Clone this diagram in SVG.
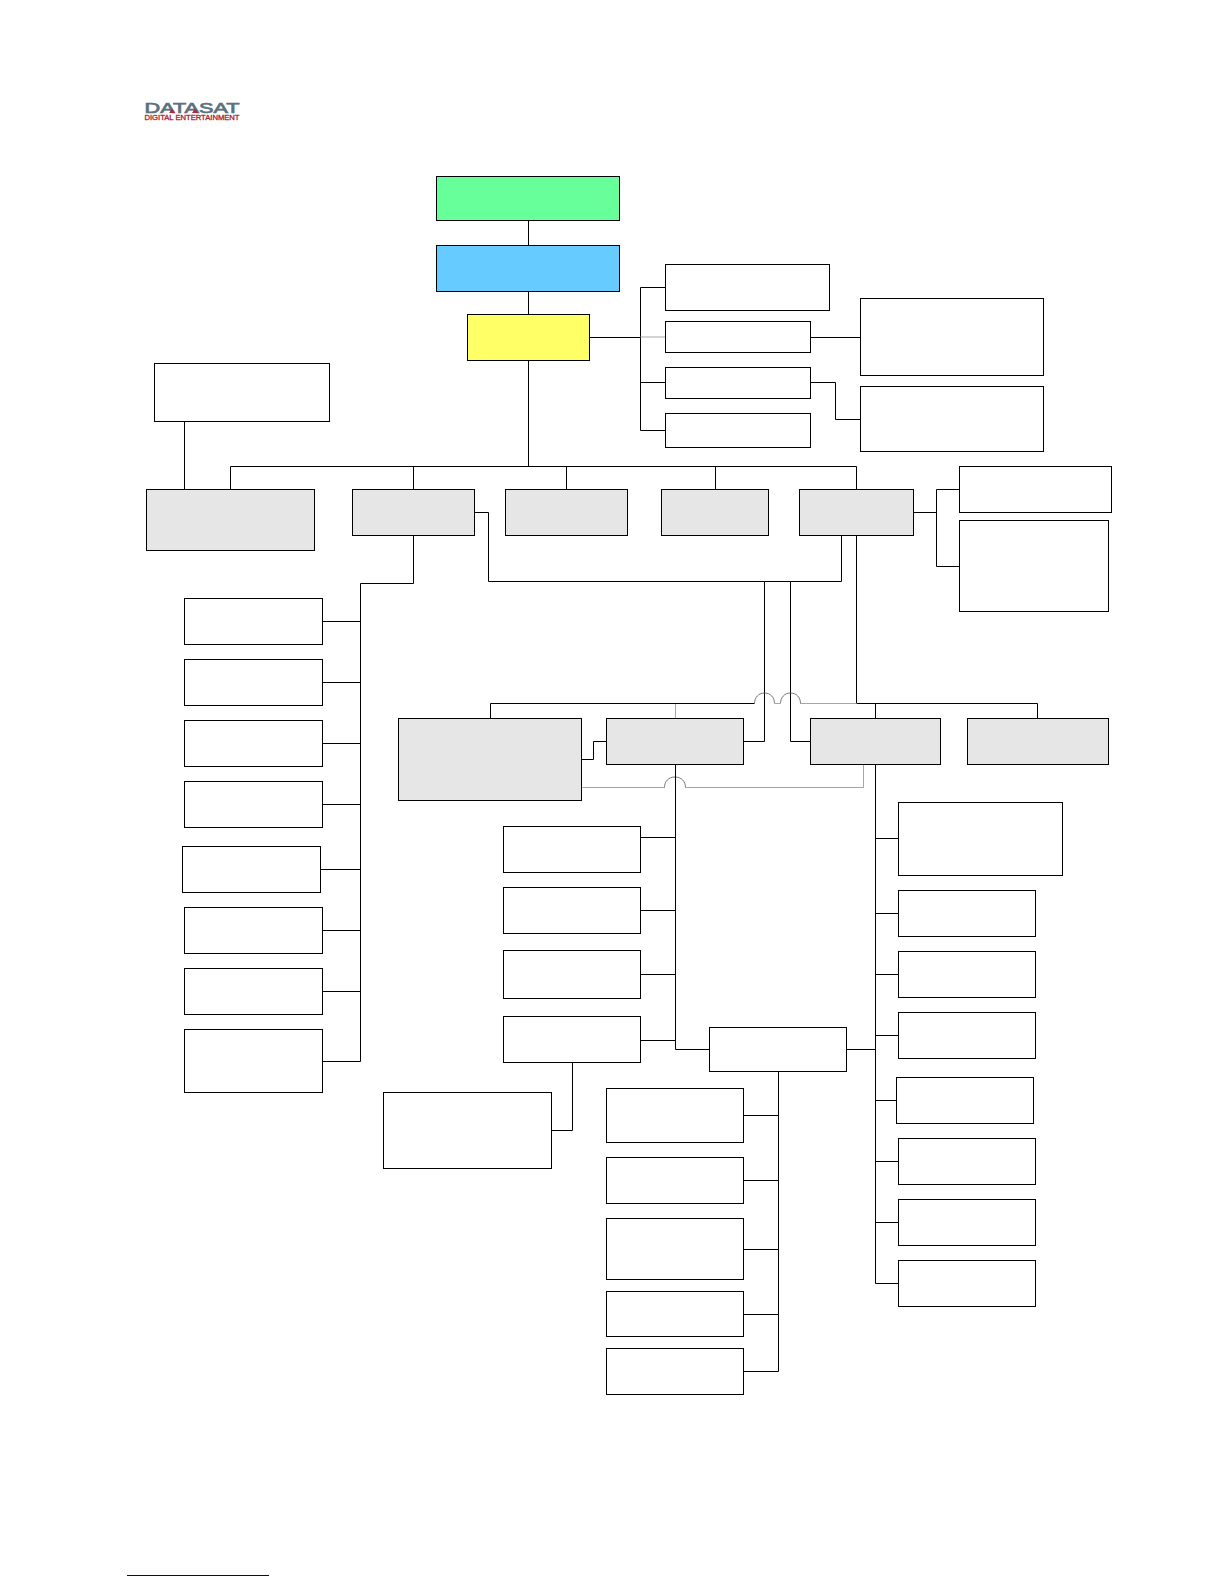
<svg xmlns="http://www.w3.org/2000/svg" width="1224" height="1584" viewBox="0 0 1224 1584">
<style>
rect{stroke:#000;stroke-width:1;fill:#fff}
.g{fill:#e6e6e6}
.c{fill:none;stroke:#000;stroke-width:1}
.l{fill:none;stroke:#a6a6a6;stroke-width:1}
.a{fill:none;stroke:#555;stroke-width:.8}
</style>
<rect x="0" y="0" width="1224" height="1584" style="fill:#fff;stroke:none"/>
<g id="logo">
<text x="144.5" y="113" font-family="Liberation Sans, Arial, sans-serif" font-size="14.5" fill="#5a727d" stroke="#5a727d" stroke-width=".7" textLength="95" lengthAdjust="spacingAndGlyphs">DATASAT</text>
<polygon points="169,113 172,108.5 175,113" fill="#b5283a"/>
<polygon points="192,113 195,108.5 198,113" fill="#b5283a"/>
<text x="144.5" y="120" font-family="Liberation Sans, Arial, sans-serif" font-size="6.8" fill="#a82434" stroke="#a82434" stroke-width=".3" textLength="95" lengthAdjust="spacingAndGlyphs">DIGITAL ENTERTAINMENT</text>
</g>
<g id="connectors">
<path class="c" d="M528.5 220.5V245.5M528.5 291.5V314.5M528.5 360.5V466.5"/>
<path class="c" d="M230.5 489.5V466.5H856.5V489.5M413.5 466.5V489.5M566.5 466.5V489.5M715.5 466.5V489.5"/>
<path class="c" d="M184.5 421.5V489.5"/>
<path class="c" d="M589.5 337.5H640.5M665.5 287.5H640.5V430.5H665.5M640.5 382.5H665.5"/>
<path class="l" d="M640.5 337H665"/>
<path class="c" d="M810.5 337.5H860.5M810.5 382.5H835.5V419.5H860.5"/>
<path class="c" d="M913.5 512.5H936.5M959.5 489.5H936.5V566.5H959.5"/>
<path class="c" d="M413.5 535.5V583.5H360.5V1061.5H322.5"/>
<path class="c" d="M322.5 621.5H360.5M322.5 682.5H360.5M322.5 743.5H360.5M322.5 804.5H360.5M320.5 869.5H360.5M322.5 930.5H360.5M322.5 991.5H360.5"/>
<path class="c" d="M474.5 512.5H488.5V581.5H841.5V535.5"/>
<path class="c" d="M764.5 581.5V741.5H743.5M790.5 581.5V741.5H810.5"/>
<path class="c" d="M856.5 535.5V703.5H1037.5V718.5M875.5 703.5V718.5"/>
<path class="c" d="M490.5 718.5V703.5H754.5"/>
<path class="l" d="M675.5 704V718.5M800.5 703.5H856.5M775 703.5H780"/>
<path class="a" d="M754.5 703.5c0-6 4-10.500 10-10.500s10 4.500 10 10.500M780.500 703.500c0-6 4-10.500 10-10.500s10 4.500 10 10.500"/>
<path class="c" d="M581.5 759.5H593.5V741.5H606.5"/>
<path class="l" d="M581.5 787.5H664.5M685.5 787.5H863.5V764.5"/>
<path class="a" d="M664.5 787.500c0-6 4-10.500 10.500-10.500s10.500 4.500 10.500 10.500"/>
<path class="c" d="M675.5 764.5V1049.5H709.5M640.5 837.5H675.5M640.5 910.5H675.5M640.5 974.5H675.5M640.5 1040.5H675.5"/>
<path class="c" d="M572.5 1062.5V1130.5H551.5"/>
<path class="c" d="M846.5 1049.5H875.5M778.5 1071.5V1371.5H743.5M743.5 1115.5H778.5M743.5 1180.5H778.5M743.5 1249.5H778.5M743.5 1314.5H778.5"/>
<path class="c" d="M875.5 764.5V1283.5H898.5M875.5 838.5H898.5M875.5 913.5H898.5M875.5 974.5H898.5M875.5 1035.5H898.5M875.5 1100.5H896.5M875.5 1161.5H898.5M875.5 1222.5H898.5"/>
</g>
<g id="n1"><rect x="436.5" y="176.5" width="183" height="44" style="fill:#66ff99"/></g>
<g id="n2"><rect x="436.5" y="245.5" width="183" height="46" style="fill:#66ccff"/></g>
<g id="n3"><rect x="467.5" y="314.5" width="122" height="46" style="fill:#ffff66"/></g>
<g id="n4"><rect x="665.5" y="264.5" width="164" height="46"/></g>
<g id="n5"><rect x="665.5" y="321.5" width="145" height="31"/></g>
<g id="n6"><rect x="665.5" y="367.5" width="145" height="31"/></g>
<g id="n7"><rect x="665.5" y="413.5" width="145" height="34"/></g>
<g id="n8"><rect x="860.5" y="298.5" width="183" height="77"/></g>
<g id="n9"><rect x="860.5" y="386.5" width="183" height="65"/></g>
<g id="n10"><rect x="154.5" y="363.5" width="175" height="58"/></g>
<g id="n11"><rect class="g" x="146.5" y="489.5" width="168" height="61"/></g>
<g id="n12"><rect class="g" x="352.5" y="489.5" width="122" height="46"/></g>
<g id="n13"><rect class="g" x="505.5" y="489.5" width="122" height="46"/></g>
<g id="n14"><rect class="g" x="661.5" y="489.5" width="107" height="46"/></g>
<g id="n15"><rect class="g" x="799.5" y="489.5" width="114" height="46"/></g>
<g id="n16"><rect x="959.5" y="466.5" width="152" height="46"/></g>
<g id="n17"><rect x="959.5" y="520.5" width="149" height="91"/></g>
<g id="n18"><rect x="184.5" y="598.5" width="138" height="46"/></g>
<g id="n19"><rect x="184.5" y="659.5" width="138" height="46"/></g>
<g id="n20"><rect x="184.5" y="720.5" width="138" height="46"/></g>
<g id="n21"><rect x="184.5" y="781.5" width="138" height="46"/></g>
<g id="n22"><rect x="182.5" y="846.5" width="138" height="46"/></g>
<g id="n23"><rect x="184.5" y="907.5" width="138" height="46"/></g>
<g id="n24"><rect x="184.5" y="968.5" width="138" height="46"/></g>
<g id="n25"><rect x="184.5" y="1029.5" width="138" height="63"/></g>
<g id="n26"><rect class="g" x="398.5" y="718.5" width="183" height="82"/></g>
<g id="n27"><rect class="g" x="606.5" y="718.5" width="137" height="46"/></g>
<g id="n28"><rect class="g" x="810.5" y="718.5" width="130" height="46"/></g>
<g id="n29"><rect class="g" x="967.5" y="718.5" width="141" height="46"/></g>
<g id="n30"><rect x="503.5" y="826.5" width="137" height="46"/></g>
<g id="n31"><rect x="503.5" y="887.5" width="137" height="46"/></g>
<g id="n32"><rect x="503.5" y="950.5" width="137" height="48"/></g>
<g id="n33"><rect x="503.5" y="1016.5" width="137" height="46"/></g>
<g id="n34"><rect x="383.5" y="1092.5" width="168" height="76"/></g>
<g id="n35"><rect x="709.5" y="1027.5" width="137" height="44"/></g>
<g id="n36"><rect x="606.5" y="1088.5" width="137" height="54"/></g>
<g id="n37"><rect x="606.5" y="1157.5" width="137" height="46"/></g>
<g id="n38"><rect x="606.5" y="1218.5" width="137" height="61"/></g>
<g id="n39"><rect x="606.5" y="1291.5" width="137" height="45"/></g>
<g id="n40"><rect x="606.5" y="1348.5" width="137" height="46"/></g>
<g id="n41"><rect x="898.5" y="802.5" width="164" height="73"/></g>
<g id="n42"><rect x="898.5" y="890.5" width="137" height="46"/></g>
<g id="n43"><rect x="898.5" y="951.5" width="137" height="46"/></g>
<g id="n44"><rect x="898.5" y="1012.5" width="137" height="46"/></g>
<g id="n45"><rect x="896.5" y="1077.5" width="137" height="46"/></g>
<g id="n46"><rect x="898.5" y="1138.5" width="137" height="46"/></g>
<g id="n47"><rect x="898.5" y="1199.5" width="137" height="46"/></g>
<g id="n48"><rect x="898.5" y="1260.5" width="137" height="46"/></g>
<path d="M127 1575.500H269" stroke="#000080" stroke-width="1" fill="none"/>
</svg>
